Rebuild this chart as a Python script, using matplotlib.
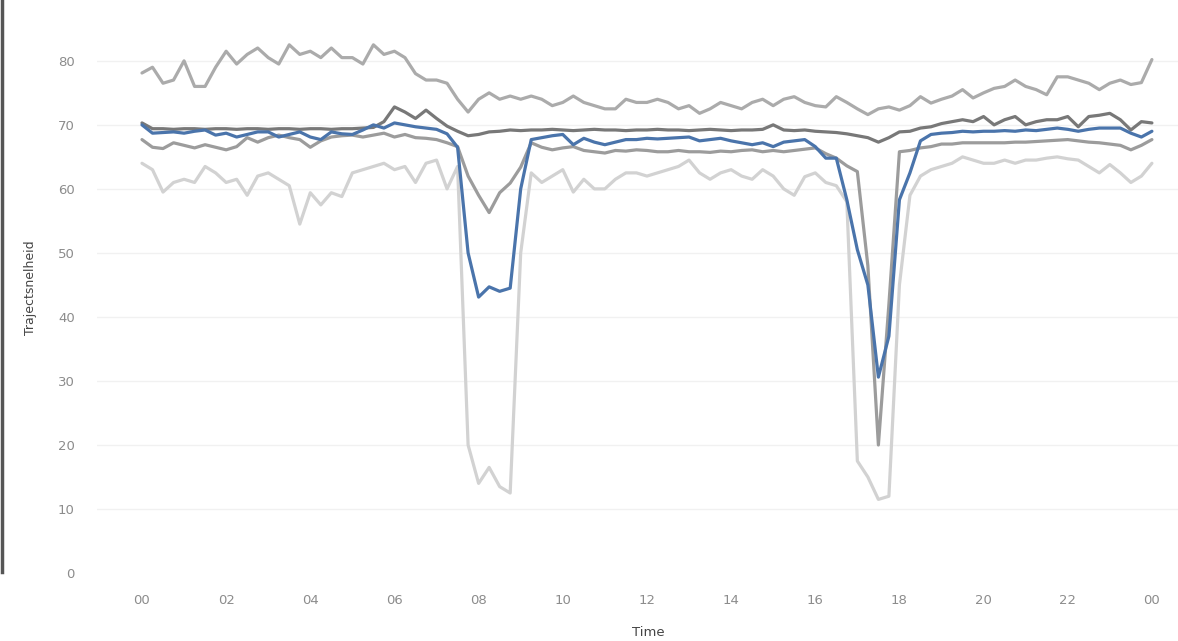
import numpy as np
import matplotlib
matplotlib.use('Agg')
import matplotlib.pyplot as plt
from matplotlib.lines import Line2D

# quarter-hour time grid, 00:00 .. 24:00
hours = np.arange(97) * 0.25
tick_hours = [0, 2, 4, 6, 8, 10, 12, 14, 16, 18, 20, 22, 24]
tick_labels = ['00', '02', '04', '06', '08', '10', '12', '14', '16', '18', '20', '22', '00']
y_ticks = [0, 10, 20, 30, 40, 50, 60, 70, 80]

# upper light grey series
speed_high = [
    78.1, 79, 76.5, 77, 80, 76, 76, 79,
    81.5, 79.5, 81, 82, 80.5, 79.5, 82.5, 81,
    81.5, 80.5, 82, 80.5, 80.5, 79.5, 82.5, 81,
    81.5, 80.5, 78, 77, 77, 76.5, 74, 72,
    74, 75, 74, 74.5, 74, 74.5, 74, 73,
    73.5, 74.5, 73.5, 73, 72.5, 72.5, 74, 73.5,
    73.5, 74, 73.5, 72.5, 73, 71.8, 72.5, 73.5,
    73, 72.5, 73.5, 74, 73, 74, 74.4, 73.5,
    73, 72.8, 74.4, 73.5, 72.5, 71.6, 72.5, 72.8,
    72.3, 73, 74.4, 73.4, 74, 74.5, 75.5, 74.2,
    75, 75.7, 76, 77, 76, 75.5, 74.7, 77.5,
    77.5, 77, 76.5, 75.5, 76.5, 77, 76.3, 76.6,
    80.2]

# lowest, lightest grey series
speed_low = [
    64, 63, 59.5, 61, 61.5, 61, 63.5, 62.5,
    61, 61.5, 59, 62, 62.5, 61.5, 60.5, 54.5,
    59.4, 57.5, 59.4, 58.8, 62.5, 63, 63.5, 64,
    63, 63.5, 61, 64, 64.5, 60, 63.5, 20,
    14, 16.5, 13.5, 12.5, 50, 62.5, 61, 62,
    63, 59.5, 61.5, 60, 60, 61.5, 62.5, 62.5,
    62, 62.5, 63, 63.5, 64.5, 62.5, 61.5, 62.5,
    63, 62, 61.5, 63, 62, 60, 59, 61.9,
    62.5, 61, 60.5, 58, 17.5, 15, 11.5, 12,
    45, 59, 62, 63, 63.5, 64, 65, 64.5,
    64, 64, 64.5, 64, 64.5, 64.5, 64.8, 65,
    64.7, 64.5, 63.5, 62.5, 63.8, 62.5, 61, 62,
    64]

# dark grey series
speed_dark = [
    70.3, 69.4, 69.4, 69.3, 69.4, 69.4, 69.3, 69.4,
    69.4, 69.3, 69.4, 69.4, 69.3, 69.4, 69.4, 69.3,
    69.4, 69.4, 69.3, 69.4, 69.4, 69.5, 69.6, 70.5,
    72.8, 72, 71, 72.3, 71, 69.8, 69, 68.3,
    68.5, 68.9, 69, 69.2, 69.1, 69.2, 69.2, 69.3,
    69.2, 69.1, 69.2, 69.3, 69.2, 69.2, 69.1, 69.2,
    69.2, 69.3, 69.2, 69.2, 69.1, 69.2, 69.3, 69.2,
    69.1, 69.2, 69.2, 69.3, 70, 69.2, 69.1, 69.2,
    69, 68.9, 68.8, 68.6, 68.3, 68, 67.3, 68,
    68.9, 69, 69.5, 69.7, 70.2, 70.5, 70.8, 70.5,
    71.3, 70, 70.8, 71.3, 70, 70.5, 70.8, 70.8,
    71.3, 69.7, 71.3, 71.5, 71.8, 70.8, 69.2, 70.5,
    70.3]

# middle grey series
speed_mid = [
    67.7, 66.5, 66.3, 67.2, 66.8, 66.4, 66.9, 66.5,
    66.1, 66.6, 68, 67.3, 68, 68.4, 68, 67.7,
    66.5, 67.5, 68.1, 68.3, 68.4, 68.1, 68.4, 68.7,
    68.1, 68.5, 68, 67.9, 67.7, 67.2, 66.6, 62,
    59, 56.3, 59.4, 60.9, 63.4, 67.2, 66.5, 66.1,
    66.4, 66.6, 66, 65.8, 65.6, 66, 65.9, 66.1,
    66, 65.8, 65.8, 66, 65.8, 65.8, 65.7, 65.9,
    65.8, 66, 66.1, 65.8, 66, 65.8, 66, 66.2,
    66.4, 65.5, 64.8, 63.6, 62.7, 48, 20, 42,
    65.8, 66, 66.4, 66.6, 67, 67, 67.2, 67.2,
    67.2, 67.2, 67.2, 67.3, 67.3, 67.4, 67.5, 67.6,
    67.7, 67.5, 67.3, 67.2, 67, 66.8, 66.1, 66.8,
    67.7]

# highlighted (blue) series
speed_today = [
    70, 68.7, 68.8, 68.9, 68.7, 69, 69.2, 68.4,
    68.7, 68.1, 68.5, 68.9, 68.9, 68.1, 68.5, 68.9,
    68.1, 67.7, 68.9, 68.6, 68.5, 69.2, 70, 69.5,
    70.3, 70, 69.7, 69.5, 69.3, 68.6, 66.5, 50,
    43.1, 44.7, 44, 44.5, 60, 67.7, 68, 68.3,
    68.5, 66.9, 67.9, 67.3, 66.9, 67.3, 67.7, 67.7,
    67.9, 67.8, 67.9, 68, 68.1, 67.5, 67.7, 67.9,
    67.5, 67.2, 66.9, 67.2, 66.6, 67.3, 67.5, 67.7,
    66.6, 64.8, 64.8, 58.3, 50.5, 45, 30.6, 37,
    58.3, 62.5, 67.5, 68.5, 68.7, 68.8, 69, 68.9,
    69, 69, 69.1, 69, 69.2, 69.1, 69.3, 69.5,
    69.3, 69, 69.3, 69.5, 69.5, 69.5, 68.7, 68.1,
    69]

fig = plt.figure(figsize=(11.78, 6.41), dpi=100)
ax = fig.add_axes([0.0823, 0.103, 0.9177, 0.897])

lw = 2.3
kw = dict(linewidth=lw, solid_joinstyle='round', solid_capstyle='round')
ax.plot(hours, speed_low, color='#d2d2d2', **kw)
ax.plot(hours, speed_high, color='#ababab', **kw)
ax.plot(hours, speed_mid, color='#9c9c9c', **kw)
ax.plot(hours, speed_dark, color='#787878', **kw)
ax.plot(hours, speed_today, color='#4a74ab', **kw)

ax.set_xlim(-1.07, 24.62)
ax.set_ylim(-0.3, 89.5)
ax.set_xticks(tick_hours)
ax.set_xticklabels(tick_labels)
ax.set_yticks(y_ticks)

for v in y_ticks[1:]:
    ax.axhline(v, color='#f1f1f1', linewidth=1, zorder=0)

for s in ax.spines.values():
    s.set_visible(False)
ax.tick_params(axis='both', length=0, colors='#8c8c8c', labelsize=9.5)
ax.tick_params(axis='y', pad=16)
ax.tick_params(axis='x', pad=14)

ax.set_ylabel('Trajectsnelheid', fontsize=9, color='#444444')
ax.yaxis.set_label_coords(-0.055, 0.5)
ax.set_xlabel('Time', fontsize=9.5, color='#444444')
ax.xaxis.set_label_coords(0.51, -0.088)

# dark border strip on the far left of the screenshot
fig.add_artist(Line2D([0.0015, 0.0015], [1.0, 0.108], transform=fig.transFigure,
                      color='#555555', linewidth=2.5))

fig.savefig('out.png', dpi=100)
